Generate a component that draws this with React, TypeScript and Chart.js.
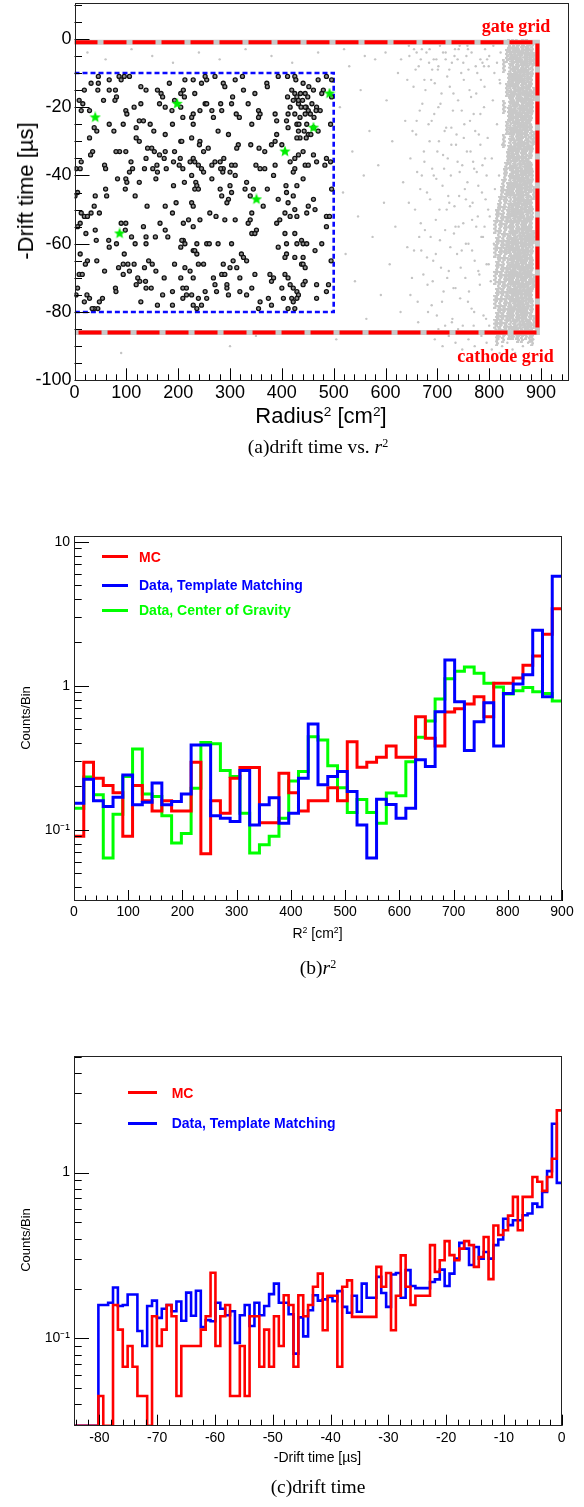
import React, { useEffect, useRef } from "react";
import { Chart, registerables } from "chart.js";

Chart.register(...registerables);

const SANS = "'Liberation Sans', Arial, Helvetica, sans-serif";
const SERIF = "'Liberation Serif', 'Times New Roman', serif";

// ================= Panel (a): drift time vs r^2 =================
const A_X_TICKS = [0, 100, 200, 300, 400, 500, 600, 700, 800, 900];
const A_Y_TICKS = [-100, -80, -60, -40, -20, 0];
const GATE_GRID_DT = -1;
const CATHODE_GRID_DT = -86;
const GRID_EDGE_R2 = 893;
const FV_R2 = [0, 500];
const FV_DT = [-10, -80];

const STAR_EVENTS: [number, number][] = [
  [40, -23], [198, -19], [492, -16], [87, -57], [351, -47], [461, -26], [406, -33],
];

const FV_EVENTS: [number, number][] = [
  [46,-11],[32,-13],[19,-15],[46,-13],[45,-15],[67,-12],[86,-11],[96,-11],[90,-12],[106,-11],
  [67,-15],[79,-15],[81,-17],[78,-18],[56,-18],[9,-18],[16,-19],[13,-21],[29,-21],[67,-25],
  [76,-27],[94,-25],[99,-21],[101,-22],[115,-20],[128,-14],[138,-15],[160,-15],[167,-16],[170,-17],
  [164,-19],[175,-20],[183,-13],[193,-18],[205,-16],[212,-17],[188,-21],[205,-20],[209,-23],[128,-19],
  [119,-26],[125,-24],[133,-24],[146,-25],[153,-27],[175,-28],[189,-25],[205,-30],[119,-29],[125,-30],
  [141,-32],[149,-32],[154,-33],[138,-35],[164,-34],[175,-33],[193,-33],[173,-35],[159,-37],[191,-36],
  [202,-37],[209,-38],[212,-42],[177,-38],[160,-39],[151,-38],[135,-38],[109,-36],[112,-38],[99,-33],
  [87,-33],[80,-33],[43,-27],[38,-26],[29,-29],[35,-33],[31,-34],[13,-36],[3,-38],[11,-38],
  [58,-37],[60,-38],[83,-41],[99,-41],[101,-42],[98,-44],[106,-39],[125,-42],[117,-46],[157,-41],
  [191,-43],[40,-46],[60,-44],[62,-46],[6,-45],[1,-46],[13,-51],[19,-52],[25,-52],[32,-51],
  [48,-51],[38,-49],[11,-54],[6,-55],[22,-57],[40,-56],[42,-59],[66,-59],[67,-61],[81,-60],
  [90,-54],[99,-54],[98,-56],[110,-58],[117,-60],[133,-55],[138,-58],[138,-60],[156,-58],[165,-54],
  [175,-56],[180,-58],[189,-51],[196,-48],[210,-54],[210,-59],[205,-61],[175,-49],[140,-49],[11,-63],
  [25,-65],[21,-66],[43,-65],[9,-69],[15,-69],[58,-68],[85,-67],[96,-63],[94,-66],[103,-66],
  [106,-68],[94,-69],[115,-66],[135,-67],[143,-65],[150,-66],[157,-68],[173,-70],[193,-66],[205,-70],
  [209,-73],[189,-74],[170,-75],[137,-71],[138,-73],[148,-73],[126,-71],[122,-70],[119,-72],[79,-73],
  [80,-74],[6,-73],[24,-75],[29,-76],[19,-77],[54,-76],[48,-77],[45,-79],[38,-79],[34,-79],
  [160,-78],[189,-78],[209,-76],[128,-77],[3,-75],
  [213,-12],[229,-12],[245,-13],[255,-12],[252,-11],[271,-11],[287,-13],[290,-14],[310,-12],[324,-11],
  [326,-15],[348,-16],[371,-13],[372,-14],[393,-11],[411,-11],[425,-11],[427,-12],[411,-17],[425,-16],
  [429,-17],[422,-18],[432,-19],[416,-20],[412,-22],[425,-22],[435,-23],[432,-18],[419,-15],[436,-16],
  [210,-15],[232,-16],[252,-19],[255,-19],[242,-21],[265,-21],[282,-19],[284,-21],[303,-19],[305,-17],
  [335,-19],[355,-21],[358,-22],[355,-23],[342,-25],[318,-23],[312,-22],[268,-23],[229,-22],[226,-23],
  [229,-25],[387,-22],[390,-24],[409,-24],[412,-26],[429,-25],[432,-27],[435,-29],[390,-28],[387,-30],
  [380,-31],[367,-33],[356,-32],[340,-31],[316,-31],[313,-32],[297,-28],[277,-27],[242,-30],[241,-31],
  [249,-33],[258,-32],[226,-29],[207,-30],[229,-35],[232,-36],[223,-36],[204,-35],[239,-37],[245,-38],
  [249,-39],[265,-37],[271,-36],[281,-36],[288,-35],[287,-38],[303,-37],[310,-37],[300,-39],[310,-40],
  [286,-39],[282,-38],[332,-42],[345,-44],[350,-37],[358,-38],[367,-38],[387,-37],[384,-40],[372,-44],
  [400,-31],[429,-29],[425,-35],[416,-36],[425,-38],[432,-34],[422,-39],[408,-43],[429,-43],[422,-46],
  [409,-45],[226,-40],[234,-42],[236,-43],[232,-44],[239,-44],[265,-41],[281,-44],[300,-43],[303,-45],
  [297,-47],[284,-46],[294,-48],[329,-44],[339,-46],[364,-49],[393,-47],[412,-48],[425,-50],[226,-48],
  [229,-49],[261,-51],[273,-52],[242,-53],[220,-53],[229,-55],[290,-53],[310,-53],[335,-54],[339,-53],
  [342,-51],[342,-57],[351,-56],[348,-57],[390,-54],[396,-53],[406,-51],[416,-52],[429,-52],[406,-57],
  [425,-57],[409,-60],[429,-60],[438,-59],[393,-61],[409,-63],[406,-64],[425,-64],[438,-66],[207,-59],
  [213,-60],[236,-60],[255,-60],[260,-60],[277,-60],[229,-62],[236,-63],[232,-62],[303,-60],[322,-63],
  [326,-64],[332,-65],[306,-65],[313,-67],[300,-67],[287,-66],[239,-66],[249,-66],[213,-67],[223,-68],
  [229,-70],[268,-70],[271,-72],[284,-69],[290,-69],[294,-72],[319,-70],[348,-69],[377,-69],[384,-70],
  [380,-71],[406,-69],[412,-70],[416,-72],[422,-73],[429,-74],[432,-75],[419,-76],[400,-73],[216,-73],
  [216,-75],[226,-75],[239,-76],[252,-74],[255,-76],[229,-78],[245,-78],[236,-79],[274,-74],[294,-73],
  [297,-75],[319,-74],[332,-75],[358,-77],[355,-79],[342,-73],[374,-76],[380,-78],[403,-76],[412,-79],
  [425,-79],[422,-77],[429,-76],
  [441,-13],[445,-16],[447,-20],[445,-22],[451,-21],[461,-15],[470,-12],[480,-15],[477,-16],[486,-11],
  [496,-12],[467,-20],[474,-21],[466,-21],[461,-26],[470,-27],[451,-28],[496,-17],[494,-25],[441,-33],
  [445,-37],[451,-37],[467,-36],[483,-37],[486,-35],[461,-34],[441,-41],[461,-47],[451,-49],[448,-51],
  [464,-50],[486,-52],[441,-60],[448,-60],[464,-62],[477,-60],[486,-55],[441,-66],[445,-67],[441,-64],
  [445,-71],[441,-72],[467,-72],[467,-76],[486,-74],[440,-18],[445,-20],[450,-17],[455,-22],[448,-25],
  [458,-19],[462,-23],[452,-14],[443,-27],[437,-20],[433,-25],[447,-29],[456,-28],[494,-36],[496,-44],
  [492,-52],[495,-65],[490,-72],
];

const GRAY_EVENTS: [number, number][] = [
  [25,-4],[60,-6],[110,-3],[150,-5],[190,-7],[240,-4],[280,-6],[330,-3],[380,-5],[420,-7],
  [470,-4],[505,-88],[300,-90],[90,-92],[350,-87],[520,-3],[560,-5],[600,-4],[630,-6],
  [512,-20],[518,-45],[523,-63],[530,-8],[536,-33],[541,-71],[547,-52],[552,-15],[558,-40],[563,-82],
  [569,-27],[575,-58],[580,-6],[586,-37],[591,-75],[597,-48],[602,-18],[608,-66],[613,-30],[619,-55],
  [624,-10],[629,-80],[634,-42],[638,-24],[642,-61],[646,-5],[648,-35],[651,-70],[654,-14],[657,-50],
  [659,-28],[662,-77],[664,-8],[667,-44],[669,-62],[671,-19],[674,-33],[676,-56],[679,-4],[681,-72],
  [683,-25],[686,-47],[688,-12],[690,-38],[692,-65],[694,-22],[697,-53],[699,-81],[701,-9],[703,-30],
  [705,-59],[708,-16],[710,-43],[712,-74],[714,-27],[716,-6],[718,-50],[720,-35],[722,-68],[724,-14],
  [726,-40],[728,-83],[730,-21],[732,-57],[734,-3],[736,-31],[738,-63],[740,-18],[742,-46],[744,-76],
  [746,-10],[748,-37],[750,-54],[752,-25],[754,-70],[756,-5],[758,-42],[760,-60],[762,-15],[764,-33],
  [766,-79],[768,-48],[770,-22],[772,-65],[774,-8],[776,-39],[778,-52],[780,-28],[782,-72],[784,-12],
  [786,-45],[788,-58],[790,-20],[792,-35],[794,-82],[796,-6],[798,-50],
  [655,-3],[660,-24],[665,-58],[670,-40],[675,-12],[680,-64],[685,-30],[689,-78],[693,-6],[698,-41],
  [702,-20],[707,-67],[711,-34],[715,-84],[719,-11],[723,-48],[727,-26],[731,-73],[735,-55],[739,-36],
  [743,-2],[747,-62],[751,-29],[755,-47],[759,-77],[763,-24],[767,-53],[771,-38],[775,-16],[779,-68],
  [783,-31],[787,-7],[791,-55],[795,-40],[799,-66],
  [642,-12],[645,-48],[648,-75],[652,-27],[655,-62],[658,-9],[661,-39],[663,-83],[666,-21],[668,-54],
  [670,-3],[673,-69],[675,-36],[677,-15],[680,-45],[682,-80],[684,-7],[687,-58],[689,-24],[691,-71],
  [693,-40],[695,-13],[697,-63],[700,-33],[702,-85],[704,-50],[706,-19],[709,-77],[711,-4],[713,-38],
  [715,-56],[717,-26],[719,-70],[721,-46],[723,-9],[725,-61],[727,-31],[729,-82],[731,-16],[733,-49],
  [735,-73],[737,-28],[739,-6],[741,-55],[743,-39],[745,-67],[747,-21],[749,-84],[751,-12],[753,-44],
  [755,-60],[757,-33],[759,-3],[761,-74],[763,-49],[765,-17],[767,-62],[769,-36],[771,-80],[773,-27],
  [775,-55],[777,-10],[779,-43],[781,-69],[783,-22],[785,-58],[787,-37],[789,-81],[791,-14],[793,-47],
  [795,-66],[797,-29],[799,-8],[801,-52],[803,-71],[805,-35],[807,-18],[809,-60],[811,-44],[813,-77],
  [815,-25],[817,-64],[819,-40],[821,-13],[823,-55],[825,-31],[827,-72],[829,-47],[831,-20],[833,-63],
  [835,-38],[837,-80],[839,-52],
  [645,-2],[660,-4],[672,-1],[685,-3],[698,-6],[705,-2],[716,-4],[724,-1],[733,-5],[741,-3],
  [750,-7],[758,-2],[766,-4],[775,-1],[783,-6],[792,-3],[800,-5],[808,-2],[815,-7],[822,-4],
  [829,-1],[836,-3],[702,-8],[728,-7],[760,-9],[790,-8],[810,-10],[820,-12],[668,-6],[690,-9],
  [695,-88],[710,-90],[722,-87],[735,-89],[748,-91],[760,-88],[772,-90],[785,-87],[795,-89],[805,-91],
  [815,-88],[825,-90],[835,-89],[845,-91],[855,-88],[865,-90],[875,-89],[885,-88],[740,-85],[770,-84],
  [800,-84],[830,-85],[860,-84],[780,-92],[820,-92],[850,-92],
];

// dense band of events near the wall: [r^2, list of drift times]
const GRAY_BAND_COLUMNS: [number, number[]][] = [
  [841, [-4,-9,-15,-19,-26,-31,-36,-42,-47,-53,-57,-63,-68,-72,-78,-83]],
  [846, [-2,-7,-12,-18,-23,-28,-34,-39,-44,-50,-55,-60,-66,-70,-75,-81,-86]],
  [851, [-5,-10,-14,-21,-25,-32,-37,-41,-48,-52,-58,-62,-67,-73,-77,-84]],
  [856, [-3,-8,-13,-17,-24,-29,-33,-40,-45,-49,-54,-61,-65,-71,-76,-80,-87]],
  [861, [-6,-11,-16,-22,-27,-30,-38,-43,-46,-51,-59,-64,-69,-74,-79,-85]],
  [866, [-2,-9,-14,-20,-25,-32,-35,-41,-47,-53,-56,-62,-67,-72,-78,-82]],
  [871, [-4,-8,-15,-19,-24,-28,-34,-39,-44,-49,-55,-60,-65,-70,-76,-81,-86]],
  [876, [-3,-10,-13,-18,-23,-30,-36,-40,-46,-51,-57,-61,-68,-73,-77,-84]],
  [881, [-5,-12,-17,-22,-27,-33,-38,-43,-48,-54,-58,-64,-69,-75,-80,-85]],
  [886, [-6,-16,-29,-45,-58,-71,-83]],
  [838, [-2,-12,-22,-33,-44,-50,-61,-70,-79,-86]],
  [843, [-6,-12,-17,-22,-28,-33,-39,-44,-50,-55,-60,-65,-70,-75,-80,-86]],
  [848, [-4,-10,-15,-20,-26,-31,-36,-42,-47,-52,-58,-63,-68,-73,-78,-84]],
  [853, [-2,-7,-12,-18,-23,-28,-34,-39,-44,-50,-55,-60,-65,-70,-75,-81,-86]],
  [858, [-5,-11,-16,-21,-26,-31,-36,-42,-47,-52,-57,-63,-68,-73,-78,-83]],
  [863, [-3,-8,-13,-19,-24,-29,-34,-40,-45,-50,-55,-60,-66,-71,-76,-81,-87]],
  [868, [-6,-11,-17,-22,-27,-32,-38,-43,-49,-54,-59,-64,-69,-74,-80,-85]],
  [873, [-2,-6,-11,-16,-21,-26,-31,-37,-42,-47,-52,-57,-63,-68,-73,-79,-84]],
  [878, [-6,-15,-20,-25,-33,-38,-43,-49,-54,-59,-65,-70,-75,-82,-87]],
  [883, [-3,-9,-20,-31,-40,-51,-61,-66,-72,-78,-88]],
  [812, [-55,-62,-70,-77,-84]],
  [815, [-52,-60,-67,-75,-82,-88]],
  [818, [-50,-58,-65,-73,-80,-86]],
  [821, [-48,-55,-63,-70,-78,-84]],
  [824, [-45,-53,-61,-68,-75,-82]],
  [827, [-43,-51,-59,-66,-73,-80,-87]],
  [830, [-40,-48,-56,-63,-71,-78,-85]],
  [833, [-38,-46,-54,-61,-69,-76,-83]],
  [836, [-35,-44,-52,-59,-66,-74,-81]],
  [828, [-8,-20,-30]],
  [834, [-5,-15,-26]],
];

// ================= Panel (b): R^2 distribution =================
const R2_BIN_START = 0;
const R2_BIN_WIDTH = 18;
const B_X_TICKS = [0, 100, 200, 300, 400, 500, 600, 700, 800, 900];
const B_Y_TICKS = [0.1, 1, 10];
const MC_R2 = [0.090,0.294,0.228,0.203,0.181,0.090,0.203,0.159,0.135,0.159,0.135,0.135,0.294,0.068,0.159,0.130,0.228,0.270,0.270,0.112,0.112,0.247,0.181,0.135,0.159,0.159,0.196,0.159,0.409,0.272,0.294,0.319,0.382,0.319,0.319,0.610,0.432,0.382,0.657,0.693,0.746,0.839,0.610,1.04,1.04,1.13,1.39,1.61,2.28,3.43];
const TM_R2 = [0.153,0.224,0.159,0.145,0.168,0.240,0.149,0.155,0.211,0.149,0.157,0.177,0.388,0.388,0.125,0.120,0.114,0.258,0.108,0.149,0.167,0.111,0.130,0.228,0.542,0.205,0.234,0.254,0.184,0.108,0.0636,0.163,0.150,0.120,0.141,0.306,0.275,0.661,1.51,0.775,0.355,0.563,0.762,0.382,0.885,1.03,1.19,2.43,0.839,5.75];
const COG_R2 = [0.141,0.232,0.175,0.0636,0.128,0.234,0.364,0.177,0.170,0.125,0.0809,0.094,0.194,0.403,0.395,0.258,0.234,0.130,0.069,0.0787,0.090,0.120,0.218,0.254,0.443,0.42,0.278,0.196,0.132,0.162,0.132,0.111,0.180,0.172,0.297,0.439,0.569,0.808,1.12,1.26,1.35,1.22,1.04,0.98,0.875,0.923,0.973,0.909,0.885,0.783];

// ================= Panel (c): drift time distribution =================
const DT_BIN_START = -84.4;
const DT_BIN_WIDTH = 0.844;
const C_X_TICKS = [-80, -70, -60, -50, -40, -30, -20, -10, 0];
const C_Y_TICKS = [0.1, 1];
const MC_DT = [
  0,0,0,0,0, 0.045,0,0,0.159,0.113,
  0.0675,0.090,0.0675,0.045,0.045, 0,0.136,0.090,0.113,0.159,
  0.136,0.045,0.090,0.090,0.090, 0.090,0.113,0.136,0.249,0.090,
  0.136,0.159,0.045,0.045,0.090, 0.045,0.136,0.136,0.0675,0.113,
  0.0675,0.136,0.090,0.182,0.159, 0.0675,0.182,0.136,0.159,0.205,
  0.246,0.112,0.181,0.181,0.0675, 0.205,0.224,0.135,0.135,0.135,
  0.135,0.135,0.270,0.205,0.248, 0.112,0.181,0.317,0.205,0.159,
  0.181,0.181,0.181,0.365,0.252, 0.296,0.386,0.318,0.296,0.348,
  0.386,0.365,0.27,0.31,0.409, 0.228,0.48,0.42,0.449,0.55,
  0.713,0.449,0.713,0.713,0.94, 0.88,0.775,0.94,1.21,2.37,
];
const TM_DT = [
  0,0,0,0,0, 0.159,0.159,0.164,0.203,0.157,
  0.159,0.184,0.184,0.111,0.090, 0.157,0.169,0.133,0.151,0.159,
  0.146,0.167,0.128,0.189,0.137, 0.194,0.117,0.129,0.127,0.164,
  0.151,0.138,0.146,0.094,0.138, 0.159,0.119,0.164,0.138,0.157,
  0.185,0.214,0.164,0.164,0.140, 0.081,0.134,0.103,0.148,0.182,
  0.169,0.172,0.178,0.168,0.193, 0.155,0.143,0.181,0.145,0.214,
  0.176,0.176,0.235,0.188,0.155, 0.243,0.248,0.176,0.258,0.207,
  0.201,0.201,0.201,0.219,0.227, 0.26,0.207,0.246,0.303,0.377,
  0.348,0.277,0.356,0.303,0.332, 0.303,0.365,0.395,0.527,0.482,
  0.516,0.516,0.553,0.566,0.65, 0.62,0.764,1.02,1.97,0.866,
];

// ================= helpers =================
const RED = "#ff0000";
const BLUE = "#0000ff";
const GREEN = "#00ff00";
const GRAY = "#c8c8c8";

function stepPoints(start: number, width: number, values: number[], floor: number) {
  const out: { x: number; y: number }[] = [];
  values.forEach((v, i) => {
    const y = v > 0 ? v : floor;
    out.push({ x: start + i * width, y });
    out.push({ x: start + (i + 1) * width, y });
  });
  return out;
}

function stepsBetween(a: number, b: number, step: number, skip: number[]) {
  const out: number[] = [];
  for (let v = a; v <= b + 1e-9; v += step) {
    const r = Math.round(v * 1000) / 1000;
    if (!skip.some((s) => Math.abs(s - r) < 1e-6)) out.push(r);
  }
  return out;
}

function logMinors(min: number, max: number) {
  const out: number[] = [];
  for (let e = -3; e <= 2; e++) {
    const d = Math.pow(10, e);
    for (let m = 2; m <= 9; m++) {
      const v = d * m;
      if (v > min && v < max) out.push(v);
    }
  }
  return out;
}

const rootFrame = {
  id: "rootFrame",
  afterDatasetsDraw(chart: any, _args: any, o: any) {
    const { ctx, chartArea: a, scales } = chart;
    const xs = scales.x;
    const ys = scales.y;
    ctx.save();
    ctx.strokeStyle = "#000";
    ctx.lineWidth = 1;
    const xt = (vals: number[], len: number) =>
      vals.forEach((v) => {
        const p = Math.round(xs.getPixelForValue(v)) + 0.5;
        ctx.beginPath();
        ctx.moveTo(p, a.bottom);
        ctx.lineTo(p, a.bottom - len);
        ctx.stroke();
      });
    const yt = (vals: number[], len: number) =>
      vals.forEach((v) => {
        const p = Math.round(ys.getPixelForValue(v)) + 0.5;
        ctx.beginPath();
        ctx.moveTo(a.left, p);
        ctx.lineTo(a.left + len, p);
        ctx.stroke();
      });
    xt(o.xMajor, o.xMajorLen);
    xt(o.xMinor, o.xMinorLen);
    yt(o.yMajor, o.yMajorLen);
    yt(o.yMinor, o.yMinorLen);
    ctx.strokeStyle = "#222";
    ctx.strokeRect(Math.round(a.left) + 0.5, Math.round(a.top) + 0.5, Math.round(a.right - a.left) - 1, Math.round(a.bottom - a.top) - 1);
    ctx.restore();
  },
};

function makeStar(size: number, color: string) {
  const c = document.createElement("canvas");
  c.width = size;
  c.height = size;
  const ctx = c.getContext("2d")!;
  ctx.fillStyle = color;
  ctx.beginPath();
  for (let i = 0; i < 10; i++) {
    const r = i % 2 === 0 ? size / 2 : size / 4.6;
    const ang = -Math.PI / 2 + (i * Math.PI) / 5;
    ctx.lineTo(size / 2 + r * Math.cos(ang), size / 2 + r * Math.sin(ang));
  }
  ctx.closePath();
  ctx.fill();
  return c;
}

// marker for the dense wall band: a short vertical streak of tiny dots
function makeStreak(w: number, h: number, color: string) {
  const c = document.createElement("canvas");
  c.width = w;
  c.height = h;
  const ctx = c.getContext("2d")!;
  ctx.fillStyle = color;
  for (let yy = 0; yy < h; yy += 2) {
    ctx.fillRect((yy / 2) % 2 === 0 ? 0 : 1, yy, w - 1, 2);
  }
  return c;
}

function axisBase(size: number) {
  return {
    grid: { display: false, drawTicks: false },
    border: { display: false },
    ticks: { font: { family: SANS, size }, color: "#000", autoSkip: false, maxRotation: 0, minRotation: 0 },
  };
}

const noPad = (s: any) => {
  s.paddingTop = 0;
  s.paddingBottom = 0;
  s.paddingLeft = 0;
  s.paddingRight = 0;
};

// ================= chart configs =================
function configA(): any {
  const pts = (arr: [number, number][]) => arr.map(([x, y]) => ({ x, y }));
  const band = GRAY_BAND_COLUMNS.flatMap(([x, ys]) => ys.map((y) => ({ x, y })));
  const gridPath = [
    { x: 0, y: GATE_GRID_DT },
    { x: GRID_EDGE_R2, y: GATE_GRID_DT },
    { x: GRID_EDGE_R2, y: CATHODE_GRID_DT },
    { x: 0, y: CATHODE_GRID_DT },
  ];
  const box = [
    { x: FV_R2[0], y: FV_DT[0] },
    { x: FV_R2[1], y: FV_DT[0] },
    { x: FV_R2[1], y: FV_DT[1] },
    { x: FV_R2[0], y: FV_DT[1] },
  ];
  const bx = axisBase(18);
  const by = axisBase(18);
  return {
    type: "scatter",
    data: {
      datasets: [
        { label: "stars", data: pts(STAR_EVENTS), pointStyle: makeStar(12, "#00ee00"), order: 0 },
        { label: "events", data: pts(FV_EVENTS), pointRadius: 2, pointBorderWidth: 1.3, pointBorderColor: "#111", pointBackgroundColor: "#909090", order: 1 },
        { label: "fiducial", data: box, showLine: true, borderColor: "#0a0aff", borderWidth: 2.6, borderDash: [5, 3], pointRadius: 0, order: 2 },
        { label: "grids", data: gridPath, showLine: true, borderColor: RED, borderWidth: 4, borderDash: [23, 6], pointRadius: 0, order: 3 },
        { label: "gridsbg", data: gridPath, showLine: true, borderColor: GRAY, borderWidth: 5, pointRadius: 0, order: 4 },
        { label: "band", data: band, pointStyle: makeStreak(4, 14, GRAY), order: 5 },
        { label: "gray", data: pts(GRAY_EVENTS), pointRadius: 1.2, pointBorderWidth: 0, pointBackgroundColor: "#c4c4c4", order: 6 },
      ],
    },
    options: {
      animation: false,
      responsive: false,
      devicePixelRatio: 1,
      events: [],
      layout: { padding: { left: 0, right: 16, top: 2.7, bottom: 0 }, autoPadding: false },
      plugins: {
        legend: { display: false },
        tooltip: { enabled: false },
        rootFrame: {
          xMajor: A_X_TICKS, xMinor: stepsBetween(0, 950, 20, A_X_TICKS), xMajorLen: 12, xMinorLen: 6,
          yMajor: A_Y_TICKS, yMinor: stepsBetween(-100, 10, 5, A_Y_TICKS), yMajorLen: 15, yMinorLen: 7.5,
        },
      },
      scales: {
        x: {
          type: "linear", min: 0, max: 952, ...bx,
          ticks: { ...bx.ticks, padding: 2 },
          afterBuildTicks: (s: any) => { s.ticks = A_X_TICKS.map((v) => ({ value: v })); },
          afterFit: (s: any) => { s.height = 24.7; noPad(s); },
        },
        y: {
          type: "linear", min: -100, max: 10.6, ...by,
          ticks: { ...by.ticks, padding: 3 },
          afterBuildTicks: (s: any) => { s.ticks = A_Y_TICKS.map((v) => ({ value: v })); },
          afterFit: (s: any) => { s.width = 74.5; noPad(s); },
        },
      },
    },
    plugins: [rootFrame],
  };
}

function logLabel(v: number) {
  if (Math.abs(v - 0.1) < 1e-9) return "10\u207B\u00B9";
  if (Math.abs(v - 1) < 1e-9) return "1";
  if (Math.abs(v - 10) < 1e-9) return "10";
  return "";
}

function configB(): any {
  const ymin = 0.032, ymax = 10.96;
  const bx = axisBase(14);
  const by = axisBase(14);
  const line = (label: string, vals: number[], color: string, order: number) => ({
    label, data: stepPoints(R2_BIN_START, R2_BIN_WIDTH, vals, ymin), showLine: true,
    borderColor: color, borderWidth: 3, pointRadius: 0, order, borderJoinStyle: "miter",
  });
  return {
    type: "scatter",
    data: {
      datasets: [
        line("Data, Template Matching", TM_R2, BLUE, 0),
        line("MC", MC_R2, RED, 1),
        line("Data, Center of Gravity", COG_R2, GREEN, 2),
      ],
    },
    options: {
      animation: false,
      responsive: false,
      devicePixelRatio: 1,
      events: [],
      layout: { padding: { left: 0, right: 22, top: 16, bottom: 0 }, autoPadding: false },
      plugins: {
        legend: { display: false },
        tooltip: { enabled: false },
        rootFrame: {
          xMajor: B_X_TICKS, xMinor: stepsBetween(0, 900, 20, B_X_TICKS), xMajorLen: 11, xMinorLen: 5.5,
          yMajor: B_Y_TICKS, yMinor: logMinors(ymin, ymax), yMajorLen: 15, yMinorLen: 7.7,
        },
      },
      scales: {
        x: {
          type: "linear", min: 0, max: 900, ...bx,
          ticks: { ...bx.ticks, padding: 3 },
          afterBuildTicks: (s: any) => { s.ticks = B_X_TICKS.map((v) => ({ value: v })); },
          afterFit: (s: any) => { s.height = 29; noPad(s); },
        },
        y: {
          type: "logarithmic", min: ymin, max: ymax, ...by,
          ticks: { ...by.ticks, padding: 4, callback: (v: any) => logLabel(Number(v)) },
          afterBuildTicks: (s: any) => { s.ticks = B_Y_TICKS.map((v) => ({ value: v })); },
          afterFit: (s: any) => { s.width = 74; noPad(s); },
        },
      },
    },
    plugins: [rootFrame],
  };
}

function configC(): any {
  const ymin = 0.0298, ymax = 5.04;
  const bx = axisBase(14);
  const by = axisBase(14);
  const line = (label: string, vals: number[], color: string, order: number) => ({
    label, data: stepPoints(DT_BIN_START, DT_BIN_WIDTH, vals, ymin), showLine: true,
    borderColor: color, borderWidth: 2.6, pointRadius: 0, order, borderJoinStyle: "miter",
  });
  return {
    type: "scatter",
    data: {
      datasets: [
        line("MC", MC_DT, RED, 0),
        line("Data, Template Matching", TM_DT, BLUE, 1),
      ],
    },
    options: {
      animation: false,
      responsive: false,
      devicePixelRatio: 1,
      events: [],
      layout: { padding: { left: 0, right: 22.3, top: 16, bottom: 0 }, autoPadding: false },
      plugins: {
        legend: { display: false },
        tooltip: { enabled: false },
        rootFrame: {
          xMajor: C_X_TICKS, xMinor: stepsBetween(-84, 0, 2, C_X_TICKS), xMajorLen: 11, xMinorLen: 6,
          yMajor: C_Y_TICKS, yMinor: logMinors(ymin, ymax), yMajorLen: 15, yMinorLen: 7.7,
        },
      },
      scales: {
        x: {
          type: "linear", min: DT_BIN_START, max: 0, ...bx,
          ticks: { ...bx.ticks, padding: 4 },
          afterBuildTicks: (s: any) => { s.ticks = C_X_TICKS.map((v) => ({ value: v })); },
          afterFit: (s: any) => { s.height = 34.3; noPad(s); },
        },
        y: {
          type: "logarithmic", min: ymin, max: ymax, ...by,
          ticks: { ...by.ticks, padding: 4, callback: (v: any) => logLabel(Number(v)) },
          afterBuildTicks: (s: any) => { s.ticks = C_Y_TICKS.map((v) => ({ value: v })); },
          afterFit: (s: any) => { s.width = 74; noPad(s); },
        },
      },
    },
    plugins: [rootFrame],
  };
}

// ================= components =================
function ChartCanvas({ make, left, top, width, height }: { make: () => any; left: number; top: number; width: number; height: number }) {
  const ref = useRef<HTMLCanvasElement | null>(null);
  useEffect(() => {
    const chart = new Chart(ref.current as HTMLCanvasElement, make());
    return () => chart.destroy();
  }, []);
  return (
    <canvas
      ref={ref}
      width={width}
      height={height}
      style={{ position: "absolute", left, top, width, height }}
    />
  );
}

function Txt({ x, y, children, style, rotate }: { x: number; y: number; children: any; style?: any; rotate?: boolean }) {
  return (
    <div
      style={{
        position: "absolute",
        left: x,
        top: y,
        transform: `translate(-50%, -50%)${rotate ? " rotate(-90deg)" : ""}`,
        whiteSpace: "nowrap",
        lineHeight: 1,
        ...style,
      }}
    >
      {children}
    </div>
  );
}

const Sup = ({ children }: { children: any }) => (
  <sup style={{ fontSize: "0.62em", verticalAlign: "0.55em", lineHeight: 0 }}>{children}</sup>
);

function LegendEntry({ x1, x2, tx, y, color, text }: { x1: number; x2: number; tx: number; y: number; color: string; text: string }) {
  return (
    <>
      <div style={{ position: "absolute", left: x1, top: y - 1.5, width: x2 - x1, height: 3, background: color }} />
      <div
        style={{
          position: "absolute", left: tx, top: y, transform: "translateY(-50%)", lineHeight: 1,
          fontFamily: SANS, fontWeight: "bold", fontSize: 14, color, whiteSpace: "nowrap",
        }}
      >
        {text}
      </div>
    </>
  );
}

export default function App() {
  const axisTitle = { fontFamily: SANS, color: "#000" };
  const caption = { fontFamily: SERIF, fontSize: 19.5, color: "#000" };
  return (
    <div style={{ position: "absolute", left: 0, top: 0, width: 584, height: 1507, background: "#fff", overflow: "hidden" }}>
      <ChartCanvas make={configA} left={0} top={0} width={584} height={405} />
      <ChartCanvas make={configB} left={0} top={520} width={584} height={410} />
      <ChartCanvas make={configC} left={0} top={1040} width={584} height={420} />

      {/* panel (a) text */}
      <Txt x={25.5} y={191} rotate style={{ ...axisTitle, fontSize: 22 }}>-Drift time [µs]</Txt>
      <Txt x={321} y={416} style={{ ...axisTitle, fontSize: 22 }}>
        Radius<Sup>2</Sup> [cm<Sup>2</Sup>]
      </Txt>
      <Txt x={516} y={26} style={{ fontFamily: SERIF, fontWeight: "bold", fontSize: 18, color: RED }}>gate grid</Txt>
      <Txt x={505.5} y={356} style={{ fontFamily: SERIF, fontWeight: "bold", fontSize: 18, color: RED }}>cathode grid</Txt>
      <Txt x={318} y={447} style={caption}>(a)drift time vs. <i>r</i><Sup>2</Sup></Txt>

      {/* panel (b) text */}
      <LegendEntry x1={101.7} x2={128.3} tx={139} y={556.7} color={RED} text="MC" />
      <LegendEntry x1={101.7} x2={128.3} tx={139} y={585} color={BLUE} text="Data, Template Matching" />
      <LegendEntry x1={101.7} x2={128.3} tx={139} y={610} color={GREEN} text="Data, Center of Gravity" />
      <Txt x={25} y={718} rotate style={{ ...axisTitle, fontSize: 13 }}>Counts/Bin</Txt>
      <Txt x={317.5} y={933} style={{ ...axisTitle, fontSize: 14 }}>
        R<Sup>2</Sup> [cm<Sup>2</Sup>]
      </Txt>
      <Txt x={318} y={968} style={caption}>(b)<i>r</i><Sup>2</Sup></Txt>

      {/* panel (c) text */}
      <LegendEntry x1={128} x2={157} tx={171.7} y={1092.7} color={RED} text="MC" />
      <LegendEntry x1={128} x2={157} tx={171.7} y={1123.3} color={BLUE} text="Data, Template Matching" />
      <Txt x={25} y={1240} rotate style={{ ...axisTitle, fontSize: 13 }}>Counts/Bin</Txt>
      <Txt x={317.5} y={1456.7} style={{ ...axisTitle, fontSize: 14 }}>-Drift time [µs]</Txt>
      <Txt x={318} y={1487} style={caption}>(c)drift time</Txt>
    </div>
  );
}
